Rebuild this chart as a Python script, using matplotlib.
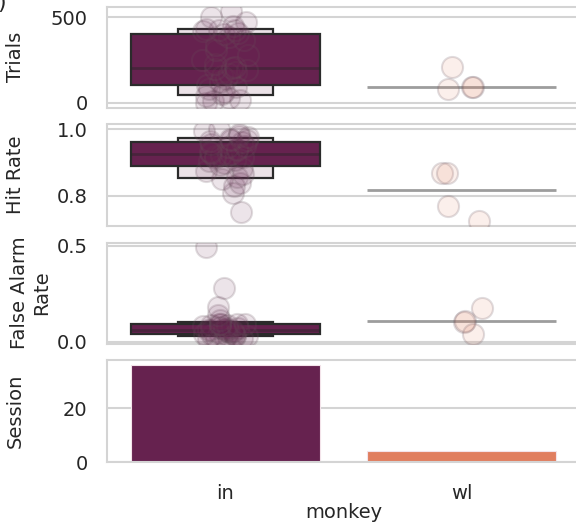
import numpy as np
import matplotlib
matplotlib.use("Agg")
import matplotlib.pyplot as plt
from matplotlib.patches import Rectangle

# per-session summaries for each monkey
monkeys = ["in", "wl"]

trials_in = [0, 10, 18, 28, 42, 50, 62, 80, 95, 105, 120, 140, 155, 170, 182, 192, 200, 203,
             207, 225, 250, 280, 310, 340, 365, 385, 400, 410, 418, 422, 425, 430, 450, 470, 500, 535]
trials_wl = [211, 95, 93, 80]

hit_in = [0.752, 0.808, 0.829, 0.840, 0.850, 0.857, 0.866, 0.875, 0.884, 0.893, 0.899, 0.904,
          0.908, 0.912, 0.916, 0.919, 0.921, 0.923, 0.925, 0.928, 0.932, 0.936, 0.940, 0.945,
          0.950, 0.955, 0.960, 0.963, 0.966, 0.968, 0.971, 0.975, 0.980, 0.986, 0.993, 1.000]
hit_wl = [0.868, 0.868, 0.769, 0.725]

fa_in = [0.015, 0.018, 0.020, 0.022, 0.031, 0.032, 0.033, 0.034, 0.036, 0.040, 0.043, 0.047,
         0.050, 0.053, 0.056, 0.058, 0.059, 0.060, 0.061, 0.063, 0.066, 0.070, 0.074, 0.078,
         0.082, 0.086, 0.090, 0.092, 0.093, 0.094, 0.095, 0.112, 0.140, 0.183, 0.280, 0.493]
fa_wl = [0.104, 0.176, 0.110, 0.041]

sessions = [36, 4]

colors = ["#66224f", "#e07e5f"]
light = ["#ebe2e7", "#fbe9e3"]

plt.rcParams["font.family"] = "DejaVu Sans"
plt.rcParams["text.color"] = ".15"
plt.rcParams["axes.labelcolor"] = ".15"
plt.rcParams["xtick.color"] = ".15"
plt.rcParams["ytick.color"] = ".15"


def boxen(ax, x, vals, color, lightcolor):
    vals = np.asarray(vals)
    k = int(np.log2(len(vals))) - 3
    if k >= 1:
        # outer boxes first, narrower and lighter
        for i in range(k, 0, -1):
            lo, hi = np.percentile(vals, [100 * 0.5 ** (i + 1), 100 * (1 - 0.5 ** (i + 1))])
            w = 0.8 * 0.5 ** (i - 1)
            fc = color if i == 1 else lightcolor
            ax.add_patch(Rectangle((x - w / 2, lo), w, hi - lo, facecolor=fc,
                                   edgecolor="#2b2b2b", linewidth=1.6, zorder=2))
    med = np.median(vals)
    ax.plot([x - 0.4, x + 0.4], [med, med], color=".15", alpha=0.45,
            linewidth=2, solid_capstyle="butt", zorder=2.5)


def strip(ax, x, vals, color, rng):
    xs = x + rng.uniform(-0.1, 0.1, len(vals))
    ax.scatter(xs, vals, s=230, facecolor=matplotlib.colors.to_rgba(color, 0.12),
               edgecolor=(0.4, 0.32, 0.36, 0.2), linewidth=1.5, zorder=3)


fig = plt.figure(figsize=(5.76, 5.29), dpi=100)
left, width, h = 107 / 576, 473 / 576, 101 / 529
bottoms = [1 - 107.5 / 529, 1 - 225.5 / 529, 1 - 343.5 / 529, 1 - 462 / 529]
axes = [fig.add_axes([left, b, width, h if i < 3 else 102 / 529]) for i, b in enumerate(bottoms)]

rng = np.random.default_rng(3)
panels = [
    ("Trials", [trials_in, trials_wl], [0, 500], "{:.0f}"),
    ("Hit Rate", [hit_in, hit_wl], [0.8, 1.0], "{:.1f}"),
    ("False Alarm\nRate", [fa_in, fa_wl], [0.0, 0.5], "{:.1f}"),
]
for ax, (label, groups, ticks, fmt) in zip(axes[:3], panels):
    for x, vals in enumerate(groups):
        boxen(ax, x, vals, colors[x], light[x])
        strip(ax, x, vals, colors[x], rng)
    ax.set_yticks(ticks)
    ax.set_yticklabels([fmt.format(t) for t in ticks])
    ax.set_ylabel(label, fontsize=14)

ax = axes[3]
ax.bar(range(len(monkeys)), sessions, width=0.8, color=colors, edgecolor="#f3e3ea",
       linewidth=0.8, zorder=2)
ax.set_yticks([0, 20])
ax.set_ylabel("Session", fontsize=14)
ax.set_xlabel("monkey", fontsize=14, labelpad=0)

for i, ax in enumerate(axes):
    ax.set_xlim(-0.5, 1.5)
    ax.set_xticks(range(len(monkeys)))
    if i < 3:
        ax.set_xticklabels([])
    else:
        ax.set_xticklabels(monkeys)
    ax.set_axisbelow(True)
    ax.grid(axis="y", color="#d4d4d4", linewidth=1.5)
    for s in ax.spines.values():
        s.set_color("#d4d4d4")
        s.set_linewidth(1.5)
    ax.tick_params(axis="y", length=0, pad=14, labelsize=14)
    ax.tick_params(axis="x", length=0, pad=16, labelsize=14)
    ax.yaxis.set_label_coords(-0.118 if i == 2 else -0.173, 0.5)

# corner of the panel letter left over from the larger figure
fig.text(-0.004, 1 - 9 / 529, ")", fontsize=16, va="baseline", ha="left")

fig.savefig("out.png", dpi=100)
